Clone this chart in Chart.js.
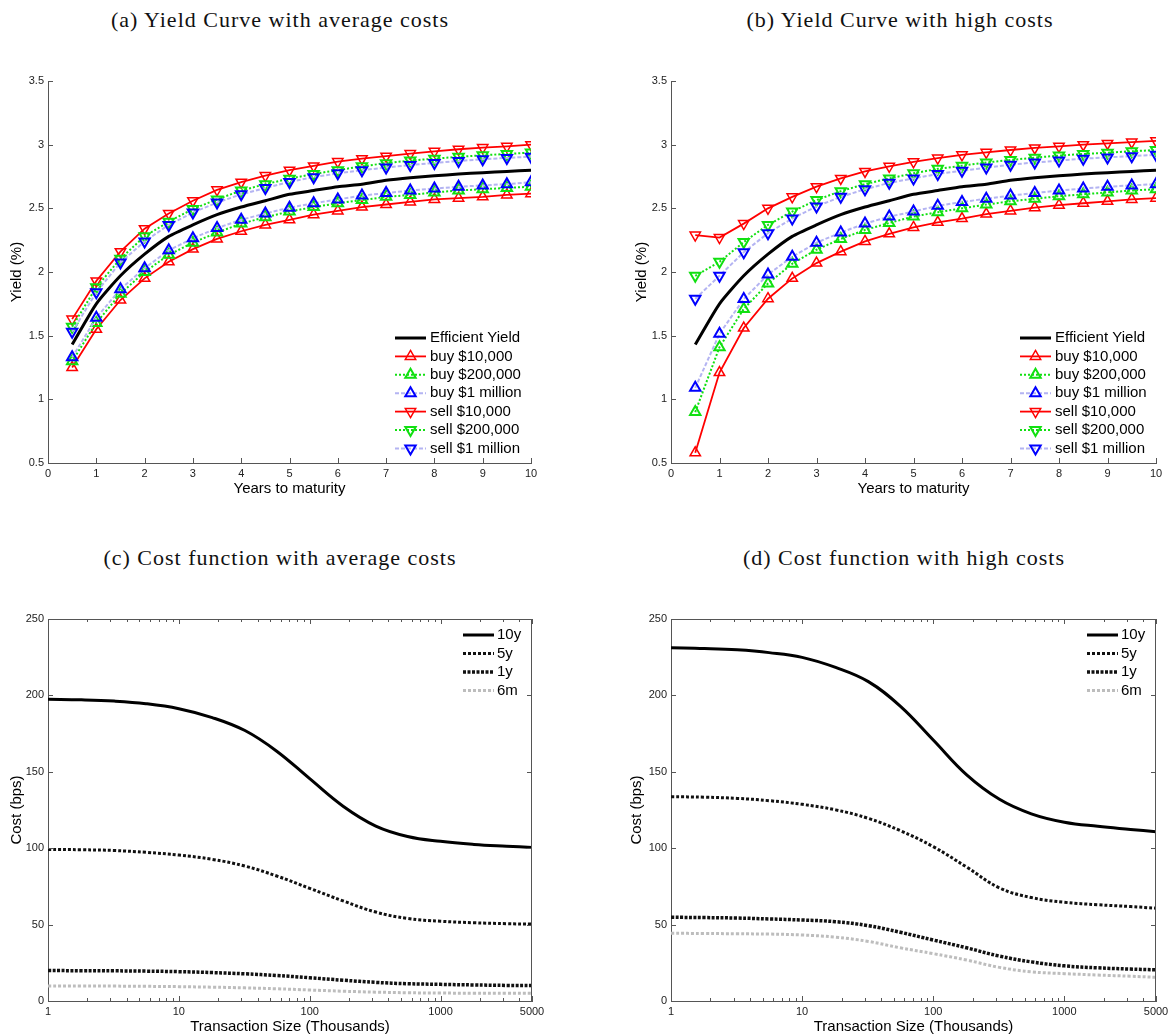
<!DOCTYPE html>
<html>
<head>
<meta charset="utf-8">
<title>Yield curves and transaction cost functions</title>
<script src="https://cdn.jsdelivr.net/npm/chart.js@4.4.1/dist/chart.umd.min.js"></script>
<style>
  html, body { margin: 0; padding: 0; background: #fff; overflow: hidden; }
  #page { position: relative; width: 1174px; height: 1036px; }
  .panel-title {
    position: absolute; width: 600px; text-align: center;
    font-family: 'Liberation Serif', 'Times New Roman', serif;
    font-size: 22px; letter-spacing: 1px; line-height: 26px; color: #111;
  }
  canvas { position: absolute; }
</style>
</head>
<body>
<div id="page">
  <div class="panel-title" style="left:-20px; top:7px">(a) Yield Curve with average costs</div>
  <div class="panel-title" style="left:600px; top:7px">(b) Yield Curve with high costs</div>
  <div class="panel-title" style="left:-20px; top:545px">(c) Cost function with average costs</div>
  <div class="panel-title" style="left:604px; top:545px">(d) Cost function with high costs</div>
  <canvas id="yieldAvg" width="587" height="450" style="left:0; top:60px"></canvas>
  <canvas id="yieldHigh" width="587" height="450" style="left:587px; top:60px"></canvas>
  <canvas id="costAvg" width="587" height="436" style="left:0; top:600px"></canvas>
  <canvas id="costHigh" width="587" height="436" style="left:587px; top:600px"></canvas>
</div>
<script>
// maturities (years) and yields (%)
const maturities = [0.5, 1, 1.5, 2, 2.5, 3, 3.5, 4, 4.5, 5, 5.5, 6, 6.5, 7, 7.5, 8, 8.5, 9, 9.5, 10];
const maturityTicks = [0, 1, 2, 3, 4, 5, 6, 7, 8, 9, 10];
const yieldTicks = [0.5, 1, 1.5, 2, 2.5, 3, 3.5];

const efficientYield = [1.43, 1.75, 1.97, 2.14, 2.28, 2.37, 2.45, 2.51, 2.56, 2.61, 2.64, 2.67, 2.69, 2.72, 2.74, 2.755, 2.77, 2.78, 2.79, 2.80];

const buy10kAvg   = [1.25, 1.55, 1.78, 1.95, 2.08, 2.18, 2.26, 2.32, 2.37, 2.41, 2.45, 2.48, 2.51, 2.53, 2.55, 2.57, 2.58, 2.59, 2.605, 2.615];
const buy200kAvg  = [1.30, 1.60, 1.83, 2.00, 2.135, 2.23, 2.31, 2.38, 2.43, 2.475, 2.51, 2.54, 2.565, 2.59, 2.605, 2.625, 2.64, 2.65, 2.66, 2.67];
const buy1mAvg    = [1.33, 1.64, 1.865, 2.03, 2.17, 2.265, 2.345, 2.41, 2.46, 2.505, 2.54, 2.57, 2.60, 2.62, 2.64, 2.655, 2.67, 2.68, 2.69, 2.705];
const sell10kAvg  = [1.63, 1.93, 2.16, 2.34, 2.46, 2.56, 2.645, 2.705, 2.757, 2.80, 2.833, 2.867, 2.89, 2.91, 2.93, 2.948, 2.964, 2.977, 2.987, 3.0];
const sell200kAvg = [1.57, 1.88, 2.105, 2.28, 2.395, 2.495, 2.57, 2.64, 2.69, 2.733, 2.77, 2.80, 2.83, 2.855, 2.875, 2.89, 2.905, 2.917, 2.927, 2.938];
const sell1mAvg   = [1.53, 1.84, 2.075, 2.24, 2.37, 2.467, 2.545, 2.61, 2.66, 2.707, 2.745, 2.775, 2.80, 2.82, 2.84, 2.857, 2.872, 2.885, 2.896, 2.906];

const buy10kHigh   = [0.58, 1.21, 1.56, 1.79, 1.95, 2.07, 2.16, 2.24, 2.30, 2.35, 2.39, 2.42, 2.455, 2.48, 2.505, 2.525, 2.54, 2.555, 2.57, 2.58];
const buy200kHigh  = [0.90, 1.41, 1.71, 1.91, 2.065, 2.175, 2.26, 2.33, 2.385, 2.435, 2.47, 2.50, 2.53, 2.555, 2.575, 2.595, 2.61, 2.625, 2.64, 2.65];
const buy1mHigh    = [1.09, 1.515, 1.787, 1.98, 2.12, 2.23, 2.31, 2.38, 2.435, 2.475, 2.52, 2.55, 2.575, 2.60, 2.62, 2.64, 2.655, 2.67, 2.68, 2.69];
const sell10kHigh  = [2.29, 2.27, 2.38, 2.50, 2.59, 2.67, 2.735, 2.79, 2.83, 2.865, 2.895, 2.92, 2.94, 2.958, 2.974, 2.987, 3.0, 3.01, 3.02, 3.03];
const sell200kHigh = [1.97, 2.08, 2.235, 2.37, 2.475, 2.565, 2.635, 2.69, 2.735, 2.775, 2.81, 2.835, 2.86, 2.88, 2.898, 2.914, 2.927, 2.937, 2.948, 2.958];
const sell1mHigh   = [1.79, 1.97, 2.155, 2.305, 2.42, 2.515, 2.59, 2.65, 2.70, 2.735, 2.77, 2.795, 2.82, 2.843, 2.86, 2.875, 2.89, 2.90, 2.91, 2.92];

// transaction size (thousands) and cost (bps)
const tradeSizes = [1, 1.8, 3.2, 5.6, 10, 18, 32, 56, 100, 180, 320, 560, 1000, 1800, 3200, 5000];
const sizeTickLabels = [1, 10, 100, 1000, 5000];
const costTicks = [0, 50, 100, 150, 200, 250];

const cost10yAvg = [197.4, 197.1, 196.3, 194.6, 191.3, 185.5, 177, 163.5, 145.5, 127.5, 114.5, 107.7, 104.5, 102.5, 101.3, 100.5];
const cost5yAvg  = [99.2, 99, 98.5, 97.3, 95.5, 92.7, 88.3, 81.8, 73.7, 65.5, 58.2, 54, 52.2, 51.2, 50.6, 50.3];
const cost1yAvg  = [19.9, 19.85, 19.75, 19.55, 19.2, 18.6, 17.8, 16.7, 15.2, 13.6, 12.2, 11.3, 10.9, 10.5, 10.2, 10.1];
const cost6mAvg  = [9.8, 9.8, 9.75, 9.6, 9.4, 9.05, 8.6, 8.0, 7.2, 6.4, 5.8, 5.4, 5.2, 5.1, 5.05, 5.0];

const cost10yHigh = [231.2, 230.7, 229.8, 228, 224.9, 218.3, 209, 193, 170.8, 148, 132, 122.5, 117, 114.3, 112.3, 110.8];
const cost5yHigh  = [133.7, 133.4, 132.6, 131.1, 128.7, 125.1, 119.5, 111.5, 101, 87.6, 74, 67.7, 64.6, 63, 61.8, 60.7];
const cost1yHigh  = [54.8, 54.6, 54.3, 53.7, 53, 51.9, 49.3, 45, 39.9, 34.8, 29.4, 25.6, 23, 21.7, 20.9, 20.4];
const cost6mHigh  = [44.3, 44.2, 44, 43.8, 43.2, 41.8, 39, 34.8, 31, 26.8, 22, 19.1, 17.9, 17, 16.2, 15.5];

// minor ticks for the log axis: 1..9 in every decade up to 5000
const sizeMinorTicks = [];
[1, 10, 100, 1000].forEach(dec => {
    for (let k = 1; k <= 9; k++) {
        if (k * dec <= 5000) sizeMinorTicks.push(k * dec);
    }
});

Chart.defaults.font.family = "'Liberation Sans', Arial, sans-serif";
Chart.defaults.color = '#222';

const axisColor = '#555';

// inward tick marks and optional full box, matlab style
const matlabAxes = {
    id: 'matlabAxes',
    afterDraw(chart, args, opts) {
        const {ctx, chartArea: area} = chart;
        const xs = chart.scales.x;
        const ys = chart.scales.y;
        const xTicks = opts.xTicks || xs.ticks.map(t => t.value);
        ctx.save();
        ctx.strokeStyle = axisColor;
        ctx.lineWidth = 1;
        ctx.beginPath();
        xTicks.forEach(v => {
            const px = Math.round(xs.getPixelForValue(v)) + 0.5;
            const len = opts.xMajor && !opts.xMajor.includes(v) ? 3 : 5;
            ctx.moveTo(px, area.bottom);
            ctx.lineTo(px, area.bottom - len);
            if (opts.box) {
                ctx.moveTo(px, area.top);
                ctx.lineTo(px, area.top + len);
            }
        });
        ys.ticks.forEach(t => {
            const py = Math.round(ys.getPixelForValue(t.value)) + 0.5;
            ctx.moveTo(area.left, py);
            ctx.lineTo(area.left + 5, py);
            if (opts.box) {
                ctx.moveTo(area.right, py);
                ctx.lineTo(area.right - 5, py);
            }
        });
        if (opts.box) {
            ctx.moveTo(area.left, Math.round(area.top) + 0.5);
            ctx.lineTo(area.right, Math.round(area.top) + 0.5);
            ctx.moveTo(Math.round(area.right) - 0.5, area.top);
            ctx.lineTo(Math.round(area.right) - 0.5, area.bottom);
        }
        ctx.stroke();
        ctx.restore();
    }
};

function drawTriangle(ctx, x, y, r, down) {
    const s = down ? -1 : 1;
    const w = r * Math.sin(Math.PI / 3);
    ctx.beginPath();
    ctx.moveTo(x, y - s * r);
    ctx.lineTo(x + w, y + s * r / 2);
    ctx.lineTo(x - w, y + s * r / 2);
    ctx.closePath();
    ctx.stroke();
}

// legend drawn inside the plot area
const plotKey = {
    id: 'plotKey',
    afterDraw(chart, args, opts) {
        const ctx = chart.ctx;
        ctx.save();
        ctx.font = '15px ' + Chart.defaults.font.family;
        ctx.textBaseline = 'middle';
        chart.data.datasets.forEach((ds, i) => {
            const y = opts.y + i * opts.rowGap;
            ctx.strokeStyle = ds.borderColor;
            ctx.lineWidth = ds.borderWidth;
            ctx.setLineDash(ds.borderDash || []);
            ctx.beginPath();
            ctx.moveTo(opts.x, y);
            ctx.lineTo(opts.x + opts.lineLen, y);
            ctx.stroke();
            ctx.setLineDash([]);
            if (ds.pointRadius > 0) {
                ctx.strokeStyle = ds.pointBorderColor;
                ctx.lineWidth = ds.pointBorderWidth;
                drawTriangle(ctx, opts.x + opts.lineLen / 2, y, ds.pointRadius, ds.pointRotation === 180);
            }
            ctx.fillStyle = '#000';
            ctx.fillText(ds.label, opts.x + opts.lineLen + opts.textGap, y);
        });
        ctx.restore();
    }
};

const markerLines = {
    red:   {borderColor: '#ff0000', borderWidth: 1.8, borderDash: [], pointBorderColor: '#ff0000', pointBorderWidth: 1.5},
    green: {borderColor: '#11e011', borderWidth: 2, borderDash: [2, 2], pointBorderColor: '#11e011', pointBorderWidth: 2},
    blue:  {borderColor: '#b4b4f2', borderWidth: 2, borderDash: [4, 2], pointBorderColor: '#0000ff', pointBorderWidth: 2}
};

function toPoints(xs, ys) {
    return xs.map((x, i) => ({x: x, y: ys[i]}));
}

function yieldDatasets(buy10k, buy200k, buy1m, sell10k, sell200k, sell1m) {
    const series = [
        ['buy $10,000', buy10k, 'red', 0],
        ['buy $200,000', buy200k, 'green', 0],
        ['buy $1 million', buy1m, 'blue', 0],
        ['sell $10,000', sell10k, 'red', 180],
        ['sell $200,000', sell200k, 'green', 180],
        ['sell $1 million', sell1m, 'blue', 180]
    ];
    const sets = [{
        label: 'Efficient Yield',
        data: toPoints(maturities, efficientYield),
        borderColor: '#000000',
        borderWidth: 3,
        borderDash: [],
        pointRadius: 0,
        tension: 0.2,
        order: 10
    }];
    series.forEach(([label, values, style, rot], i) => {
        sets.push(Object.assign({
            label: label,
            data: toPoints(maturities, values),
            pointStyle: 'triangle',
            pointRadius: 6,
            pointRotation: rot,
            pointBackgroundColor: 'rgba(0,0,0,0)',
            tension: 0,
            order: 9 - i
        }, markerLines[style]));
    });
    return sets;
}

function costDatasets(c10y, c5y, c1y, c6m) {
    const base = {pointRadius: 0, tension: 0.4, borderWidth: 3};
    return [
        Object.assign({label: '10y', data: toPoints(tradeSizes, c10y), borderColor: '#000000', borderDash: []}, base),
        Object.assign({label: '5y', data: toPoints(tradeSizes, c5y), borderColor: '#111111', borderDash: [3, 2]}, base),
        Object.assign({label: '1y', data: toPoints(tradeSizes, c1y), borderColor: '#111111', borderDash: [3, 1.5]}, base, {borderWidth: 3.5}),
        Object.assign({label: '6m', data: toPoints(tradeSizes, c6m), borderColor: '#bdbdbd', borderDash: [3, 2]}, base)
    ];
}

function yieldChart(id, datasets, pad, yTitlePad, key) {
    return new Chart(document.getElementById(id), {
        type: 'line',
        data: {datasets: datasets},
        options: {
            responsive: false,
            animation: false,
            events: [],
            layout: {padding: pad},
            plugins: {
                legend: {display: false},
                tooltip: {enabled: false},
                matlabAxes: {box: false},
                plotKey: key
            },
            scales: {
                x: {
                    type: 'linear',
                    min: 0,
                    max: 10,
                    afterBuildTicks: s => { s.ticks = maturityTicks.map(v => ({value: v})); },
                    afterFit: s => { s.height = 40; },
                    ticks: {font: {size: 11}, padding: 4, maxRotation: 0, autoSkip: false, callback: v => String(v)},
                    grid: {display: false, drawTicks: false},
                    border: {display: true, color: axisColor, width: 1},
                    title: {display: true, text: 'Years to maturity', color: '#000', font: {size: 15}, padding: {top: 0, bottom: 5}}
                },
                y: {
                    type: 'linear',
                    min: 0.5,
                    max: 3.5,
                    afterBuildTicks: s => { s.ticks = yieldTicks.map(v => ({value: v})); },
                    afterFit: s => { s.width = 48; },
                    ticks: {font: {size: 11}, padding: 4, autoSkip: false, callback: v => String(v)},
                    grid: {display: false, drawTicks: false},
                    border: {display: true, color: axisColor, width: 1},
                    title: {display: true, text: 'Yield (%)', color: '#000', font: {size: 15}, padding: {top: yTitlePad, bottom: 0}}
                }
            }
        },
        plugins: [matlabAxes, plotKey]
    });
}

function costChart(id, datasets, pad, yTitlePad, key) {
    return new Chart(document.getElementById(id), {
        type: 'line',
        data: {datasets: datasets},
        options: {
            responsive: false,
            animation: false,
            events: [],
            layout: {padding: pad},
            plugins: {
                legend: {display: false},
                tooltip: {enabled: false},
                matlabAxes: {box: true, xTicks: sizeMinorTicks, xMajor: sizeTickLabels},
                plotKey: key
            },
            scales: {
                x: {
                    type: 'logarithmic',
                    min: 1,
                    max: 5000,
                    afterBuildTicks: s => { s.ticks = sizeTickLabels.map(v => ({value: v})); },
                    afterFit: s => { s.height = 35; },
                    ticks: {font: {size: 11}, padding: 4, maxRotation: 0, autoSkip: false, callback: v => String(v)},
                    grid: {display: false, drawTicks: false},
                    border: {display: true, color: axisColor, width: 1},
                    title: {display: true, text: 'Transaction Size (Thousands)', color: '#000', font: {size: 15}, padding: {top: 0, bottom: 0}}
                },
                y: {
                    type: 'linear',
                    min: 0,
                    max: 250,
                    afterBuildTicks: s => { s.ticks = costTicks.map(v => ({value: v})); },
                    afterFit: s => { s.width = 48; },
                    ticks: {font: {size: 11}, padding: 4, autoSkip: false, callback: v => String(v)},
                    grid: {display: false, drawTicks: false},
                    border: {display: true, color: axisColor, width: 1},
                    title: {display: true, text: 'Cost (bps)', color: '#000', font: {size: 15}, padding: {top: yTitlePad, bottom: 0}}
                }
            }
        },
        plugins: [matlabAxes, plotKey]
    });
}

yieldChart('yieldAvg',
    yieldDatasets(buy10kAvg, buy200kAvg, buy1mAvg, sell10kAvg, sell200kAvg, sell1mAvg),
    {left: 0, right: 56, top: 21, bottom: 7}, 8,
    {x: 395, y: 278, rowGap: 18.4, lineLen: 31, textGap: 4});

yieldChart('yieldHigh',
    yieldDatasets(buy10kHigh, buy200kHigh, buy1mHigh, sell10kHigh, sell200kHigh, sell1mHigh),
    {left: 36, right: 18, top: 21, bottom: 7}, 10,
    {x: 433, y: 278, rowGap: 18.4, lineLen: 31, textGap: 4});

costChart('costAvg',
    costDatasets(cost10yAvg, cost5yAvg, cost1yAvg, cost6mAvg),
    {left: 0, right: 55, top: 19, bottom: 0}, 8,
    {x: 463, y: 35, rowGap: 18.5, lineLen: 31, textGap: 3});

costChart('costHigh',
    costDatasets(cost10yHigh, cost5yHigh, cost1yHigh, cost6mHigh),
    {left: 36, right: 18, top: 19, bottom: 0}, 5,
    {x: 500, y: 35, rowGap: 18.5, lineLen: 31, textGap: 3});
</script>
</body>
</html>
